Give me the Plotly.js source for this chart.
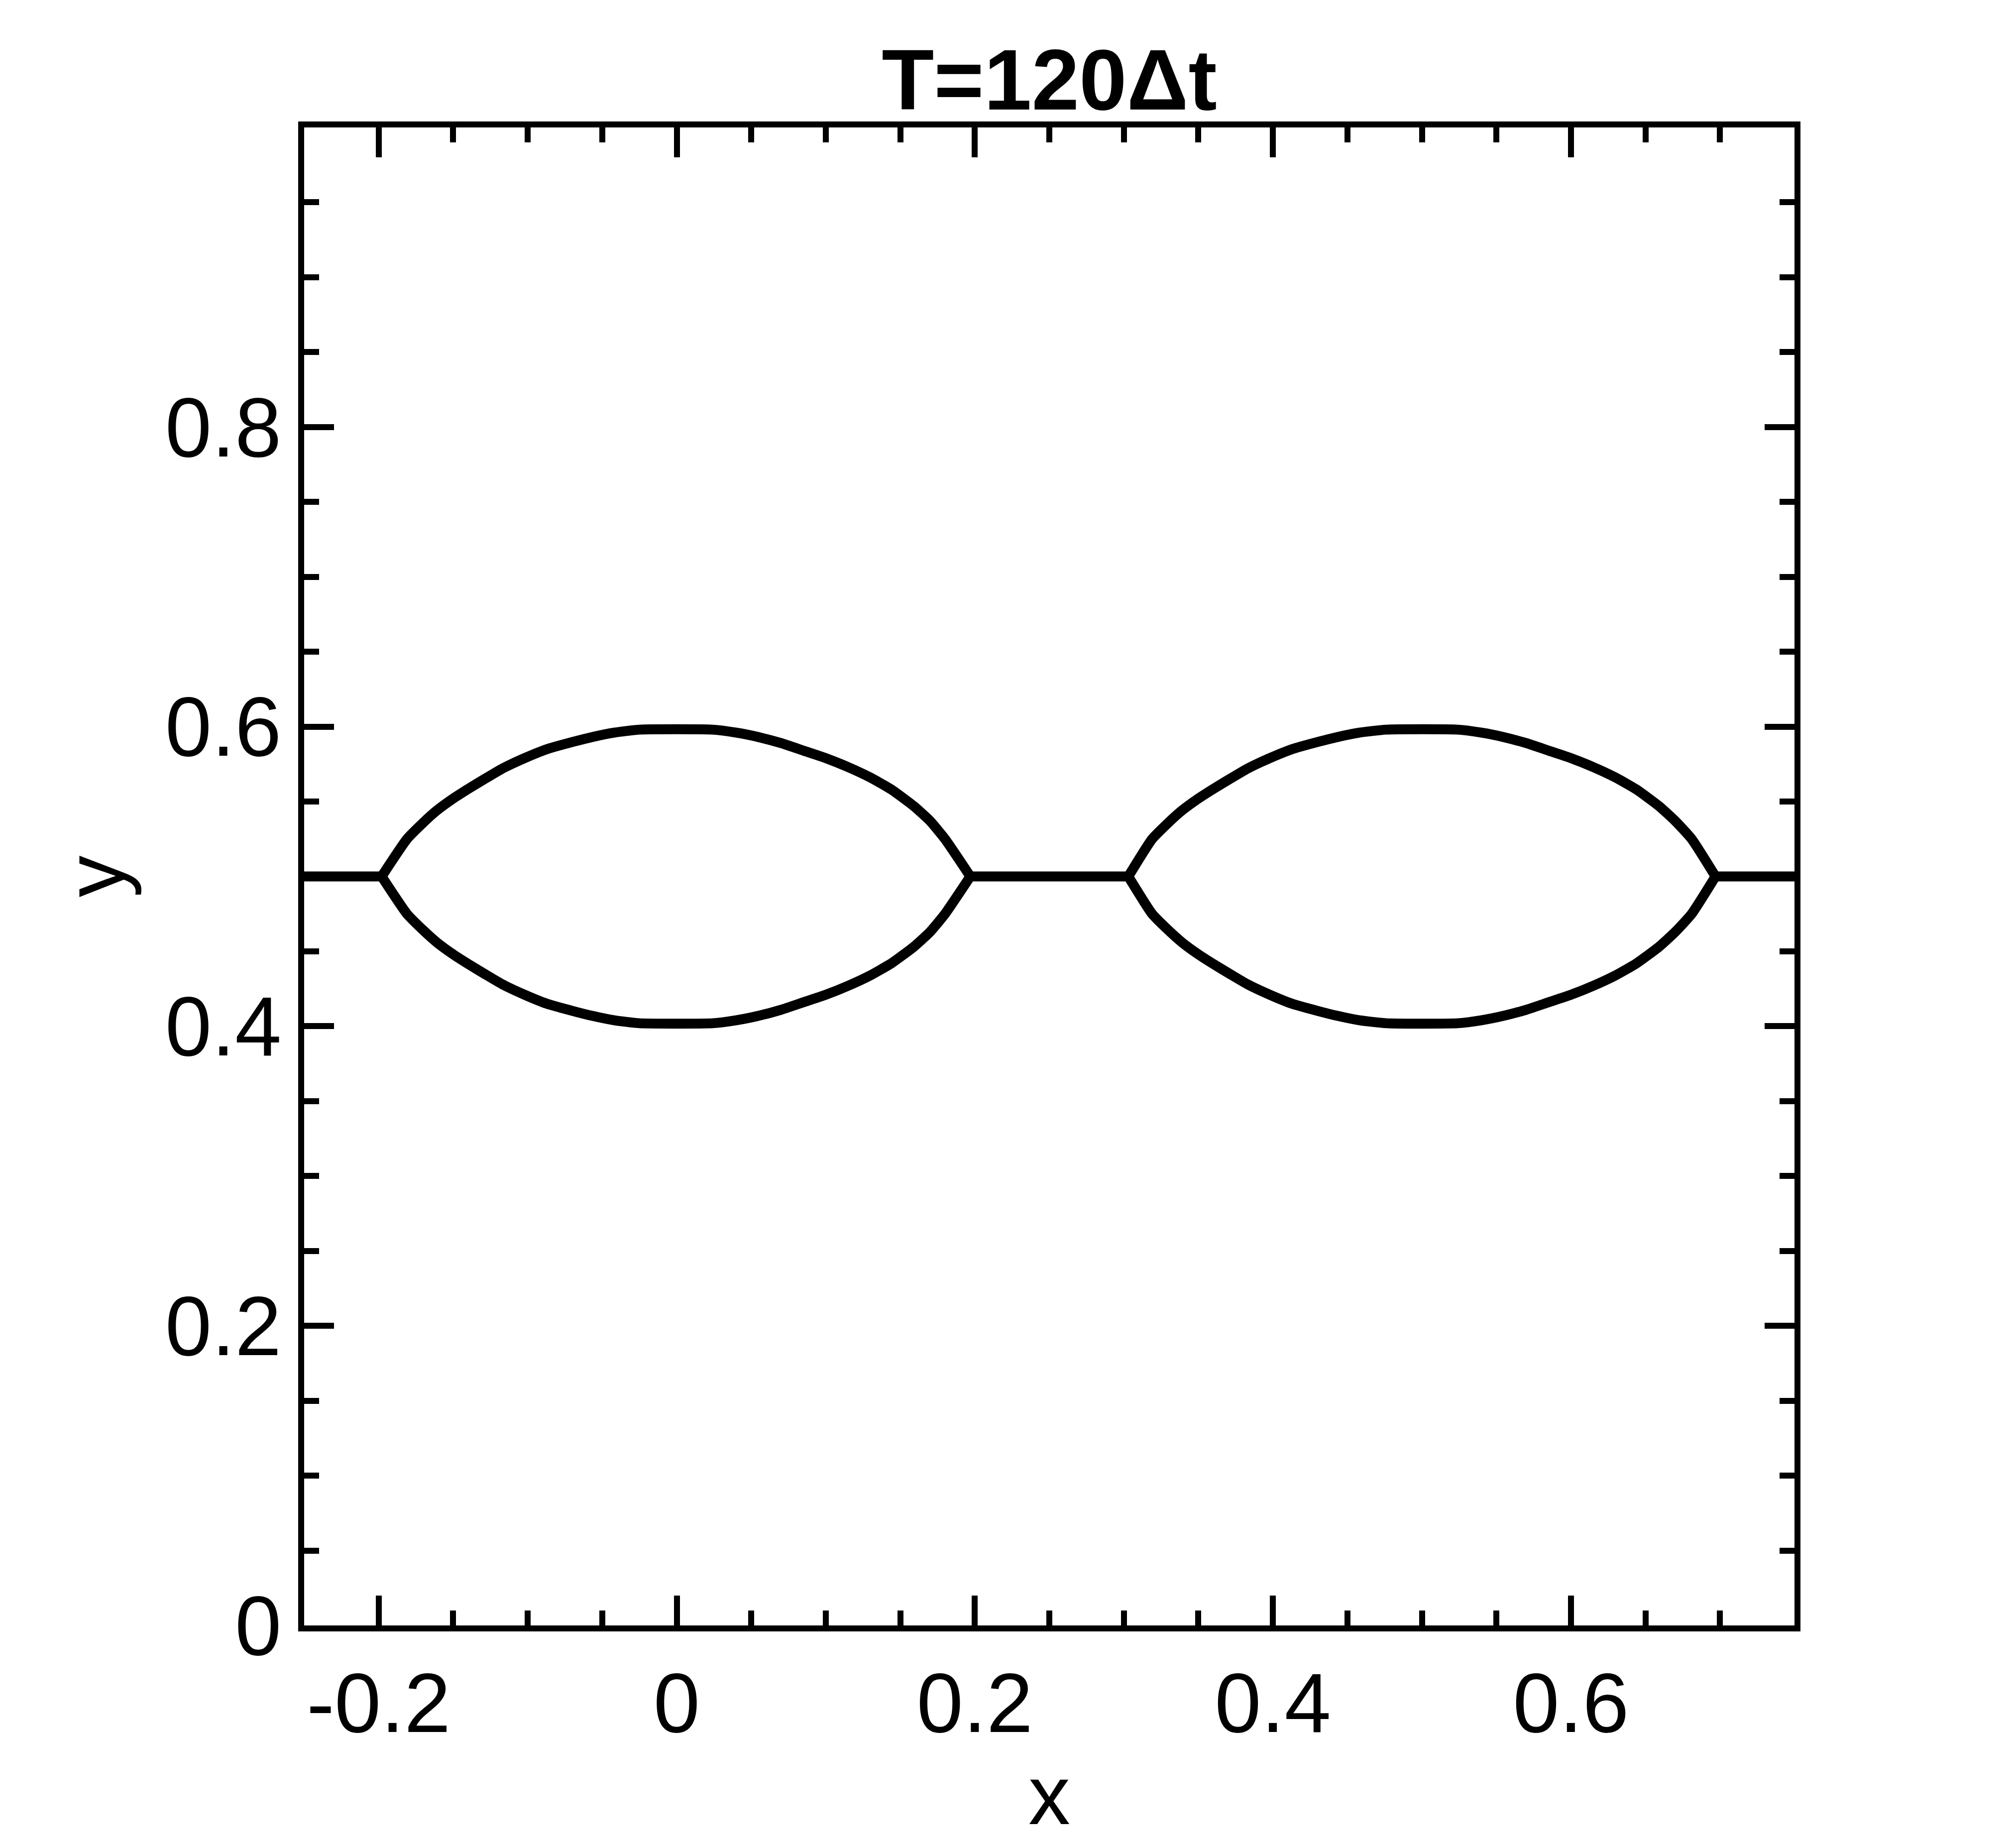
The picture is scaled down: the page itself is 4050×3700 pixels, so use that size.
<!DOCTYPE html>
<html>
<head>
<meta charset="utf-8">
<script src="https://cdn.plot.ly/plotly-3.0.1.min.js"></script>
<style>
  html, body { margin: 0; padding: 0; background: #fff; }
  #chart { width: 4050px; height: 3700px; }
</style>
</head>
<body>
<div id="chart"></div>
<script>
  // interface at T=120 dt
  const flatX = [-0.25, -0.198, null, 0.197, 0.303, null, 0.697, 0.75];
  const flatY = [0.5, 0.5, null, 0.5, 0.5, null, 0.5, 0.5];

  const lens1X = [-0.198, -0.181, -0.170, -0.161, -0.150, -0.139, -0.129, -0.117, -0.102, -0.087, -0.069, -0.057, -0.042, -0.025,
                  0.024, 0.040, 0.055, 0.070, 0.085, 0.100, 0.115, 0.130, 0.144, 0.159, 0.170, 0.180, 0.197];
  const lens1Top = [0.500, 0.525, 0.536, 0.544, 0.552, 0.559, 0.565, 0.572, 0.579, 0.585, 0.590, 0.593, 0.596, 0.598,
                    0.598, 0.596, 0.593, 0.589, 0.584, 0.579, 0.573, 0.566, 0.558, 0.547, 0.537, 0.525, 0.500];
  const lens1Bottom = [0.500, 0.475, 0.464, 0.456, 0.448, 0.441, 0.435, 0.428, 0.421, 0.415, 0.410, 0.407, 0.404, 0.402,
                       0.402, 0.404, 0.407, 0.411, 0.416, 0.421, 0.427, 0.434, 0.442, 0.453, 0.463, 0.475, 0.500];

  const lens2X = [0.303, 0.319, 0.330, 0.339, 0.350, 0.361, 0.371, 0.383, 0.398, 0.413, 0.431, 0.443, 0.458, 0.476,
                  0.524, 0.540, 0.555, 0.570, 0.585, 0.600, 0.615, 0.630, 0.644, 0.659, 0.670, 0.681, 0.697];
  const lens2Top = [0.500, 0.525, 0.536, 0.544, 0.552, 0.559, 0.565, 0.572, 0.579, 0.585, 0.590, 0.593, 0.596, 0.598,
                    0.598, 0.596, 0.593, 0.589, 0.584, 0.579, 0.573, 0.566, 0.558, 0.547, 0.537, 0.525, 0.500];
  const lens2Bottom = [0.500, 0.475, 0.464, 0.456, 0.448, 0.441, 0.435, 0.428, 0.421, 0.415, 0.410, 0.407, 0.404, 0.402,
                       0.402, 0.404, 0.407, 0.411, 0.416, 0.421, 0.427, 0.434, 0.442, 0.453, 0.463, 0.475, 0.500];

  const xTicks = [-0.2, 0, 0.2, 0.4, 0.6];
  const xTickText = ['-0.2', '0', '0.2', '0.4', '0.6'];
  const yTicks = [0, 0.2, 0.4, 0.6, 0.8];
  const yTickText = ['0', '0.2', '0.4', '0.6', '0.8'];

  const font = 'Liberation Sans, Arial, sans-serif';

  const flatTrace = {
    x: flatX, y: flatY, type: 'scatter', mode: 'lines',
    line: { color: '#000', width: 20 }, showlegend: false, hoverinfo: 'skip'
  };
  const arcs = [
    { x: lens1X, y: lens1Top },
    { x: lens1X, y: lens1Bottom },
    { x: lens2X, y: lens2Top },
    { x: lens2X, y: lens2Bottom }
  ].map(t => Object.assign(t, {
    type: 'scatter', mode: 'lines',
    line: { color: '#000', width: 20, shape: 'spline', smoothing: 0.5 },
    showlegend: false, hoverinfo: 'skip'
  }));

  const axisCommon = {
    showgrid: false,
    zeroline: false,
    showline: true,
    linecolor: '#000',
    linewidth: 12,
    mirror: 'allticks',
    ticks: 'inside',
    ticklen: 60,
    tickwidth: 12,
    tickcolor: '#000',
    tickfont: { family: font, size: 168, color: '#000' },
    tickmode: 'array',
    minor: { ticks: 'inside', ticklen: 30, tickwidth: 12, tickcolor: '#000', tickmode: 'linear', tick0: 0, dtick: 0.05, showgrid: false }
  };

  const layout = {
    width: 4050,
    height: 3700,
    margin: { l: 611, r: 445, t: 256, b: 435 },
    paper_bgcolor: '#fff',
    plot_bgcolor: '#fff',
    title: {
      text: '<b>T=120Δt</b>',
      font: { family: font, size: 172, color: '#000' },
      x: 0.5, xref: 'paper', xanchor: 'center',
      y: 0.9568, yref: 'container', yanchor: 'middle'
    },
    xaxis: Object.assign({}, axisCommon, {
      range: [-0.25, 0.75],
      tickvals: xTicks,
      ticktext: xTickText,
      title: { text: 'x', font: { family: font, size: 168, color: '#000' }, standoff: 40 }
    }),
    yaxis: Object.assign({}, axisCommon, {
      range: [0, 1],
      tickvals: yTicks,
      ticktext: yTickText,
      title: { text: 'y', font: { family: font, size: 168, color: '#000' }, standoff: 30 }
    })
  };

  Plotly.newPlot('chart', [flatTrace].concat(arcs), layout, { staticPlot: true });
</script>
</body>
</html>
